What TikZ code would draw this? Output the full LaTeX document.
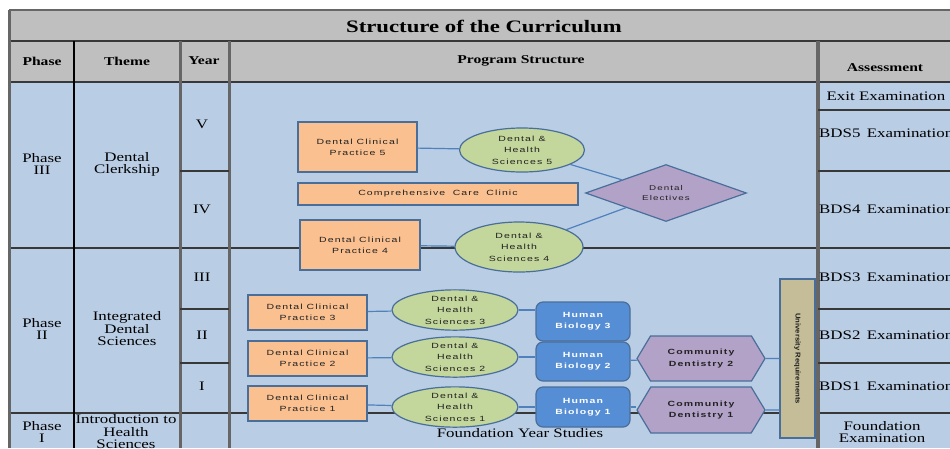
\documentclass[tikz,border=0pt]{standalone}
\usepackage{fontspec}
\setmainfont{Liberation Serif}[FakeStretch=1.3]
\newfontfamily\nf{Liberation Sans}[FakeStretch=1.4,LetterSpace=15]
\newfontfamily\nfu{Liberation Sans}[FakeStretch=1.1]
\usetikzlibrary{shapes.geometric,shapes.symbols}
\definecolor{hdr}{HTML}{BFBFBF}
\definecolor{bodyc}{HTML}{B9CDE5}
\definecolor{orng}{HTML}{FAC090}
\definecolor{grn}{HTML}{C3D69B}
\definecolor{blu}{HTML}{558ED5}
\definecolor{purp}{HTML}{B3A2C7}
\definecolor{tanc}{HTML}{C4BD97}
\definecolor{edgec}{HTML}{4A6E9A}
\definecolor{conn}{HTML}{4F81BD}
\definecolor{gridd}{HTML}{383838}
\definecolor{gridg}{HTML}{666666}
\definecolor{txt}{HTML}{222222}
\begin{document}
\begin{tikzpicture}[x=1pt,y=-1pt,
  tbl/.style={font=\fontsize{13}{12.5}\selectfont, align=center, inner sep=0, text=black},
  hd/.style={font=\fontsize{12}{12}\selectfont\bfseries, inner sep=0, text=black},
  rbox/.style={draw=edgec, line width=1.2, fill=orng, inner sep=0, align=center, text=txt,
     font=\nf\fontsize{7.5}{11}\selectfont},
  ell/.style={ellipse, draw=edgec, line width=1.2, fill=grn, inner sep=0, align=center, text=txt,
     font=\nf\fontsize{7.5}{11.5}\selectfont},
  hbox/.style={rounded corners=7, draw=edgec, line width=1.2, fill=blu, inner sep=0, align=center, text=white,
     font=\nf\fontsize{7.5}{11}\selectfont\bfseries},
  hexa/.style={signal, signal to=east and west, signal pointer angle=118, draw=edgec, line width=1.2, fill=purp,
     inner sep=0, align=center, text=txt, font=\nf\fontsize{7.5}{11.5}\selectfont\bfseries},
  dia/.style={diamond, aspect=2.8, draw=edgec, line width=1.2, fill=purp, inner sep=0, align=center, text=txt,
     font=\nf\fontsize{7}{10.5}\selectfont},
  cn/.style={conn, line width=1.2},
  gl/.style={gridd, line width=2},
  gv/.style={gridg, line width=3}
]
\useasboundingbox (0,0) rectangle (950,448);
\clip (0,0) rectangle (950,448);
\fill[white] (0,0) rectangle (950,448);
\fill[hdr] (9,10) rectangle (950,82);
\fill[bodyc] (9,82) rectangle (950,448);
% grid
\draw[gridg, line width=1.5] (9,10) -- (950,10);
\draw[gl] (9,41) -- (950,41);
\draw[gl] (9,82) -- (950,82);
\draw[gl] (9,248) -- (950,248);
\draw[gl] (9,413) -- (950,413);
\draw[gv] (9,10) -- (9,448);
\draw[black, line width=1.5] (74,41) -- (74,448);
\draw[gv] (180,41) -- (180,448);
\draw[gv] (229,41) -- (229,448);
\draw[gridg, line width=3.5] (818,41) -- (818,448);
\draw[gridd, line width=1.5] (180,171) -- (229,171) (180,309) -- (229,309) (180,363) -- (229,363);
\draw[gridd, line width=1.5] (818,110) -- (950,110) (818,171) -- (950,171) (818,309) -- (950,309) (818,363) -- (950,363);
% title and headers
\node[font=\fontsize{17.5}{17.5}\selectfont\bfseries, inner sep=0] (title) at (484,26) {Structure of the Curriculum};
\node[hd] (hphase) at (42,61) {Phase};
\node[hd] (htheme) at (127,61) {Theme};
\node[hd] (hyear) at (204,61) {Year};
\node[hd] (hprog) at (521,61) {Program Structure};
\node[hd] (hass) at (885,68) {Assessment};
% left columns
\node[tbl] (p3) at (42,164) {Phase\\III};
\node[tbl] (t3) at (127,164.5) {Dental\\Clerkship};
\node[tbl] (yv) at (202,124) {V};
\node[tbl] (yiv) at (202,209) {IV};
\node[tbl] (p2) at (42,329) {Phase\\II};
\node[tbl] (t2) at (127,329) {Integrated\\Dental\\Sciences};
\node[tbl] (yiii) at (202,277) {III};
\node[tbl] (yii) at (202,335) {II};
\node[tbl] (yi) at (202,386) {I};
\node[tbl] (p1) at (42,432) {Phase\\I};
\node[tbl] (t1) at (126,432) {Introduction to\\Health\\Sciences};
% assessment column
\node[tbl] (aexit) at (886,96) {Exit Examination};
\node[tbl, anchor=west] (a5) at (819,133) {BDS5\, Examination};
\node[tbl, anchor=west] (a4) at (819,209) {BDS4\, Examination};
\node[tbl, anchor=west] (a3) at (819,277) {BDS3\, Examination};
\node[tbl, anchor=west] (a2) at (819,335) {BDS2\, Examination};
\node[tbl, anchor=west] (a1) at (819,386) {BDS1\, Examination};
\node[tbl] (af) at (882,432) {Foundation\\Examination};
% Phase III program
\node[rbox, minimum width=119, minimum height=50] (dcp5) at (357.5,147) {Dental Clinical\\Practice 5};
\node[ell, minimum width=125, minimum height=44] (dhs5) at (522,150) {Dental \&\\Health\\Sciences 5};
\node[rbox, minimum width=280, minimum height=22] (ccc) at (438,194) {Comprehensive\quad Care\quad Clinic};
\node[dia, minimum width=161, minimum height=57] (del) at (666,193) {Dental\\Electives};
\node[rbox, minimum width=120, minimum height=50] (dcp4) at (360,245) {Dental Clinical\\Practice 4};
\node[ell, minimum width=128, minimum height=50] (dhs4) at (519,247) {Dental \&\\Health\\Sciences 4};
\draw[cn] (dcp5) -- (dhs5);
\draw[cn] (dhs5) -- (del);
\draw[cn] (dcp4) -- (dhs4);
\draw[cn] (dhs4) -- (del);
% Phase II program
\node[rbox, minimum width=119, minimum height=35] (dcp3) at (307.5,312.5) {Dental Clinical\\Practice 3};
\node[ell, minimum width=126, minimum height=38] (dhs3) at (455,310) {Dental \&\\Health\\Sciences 3};
\node[hbox, minimum width=94, minimum height=39] (hb3) at (583,321.5) {Human\\Biology 3};
\node[rbox, minimum width=119, minimum height=35] (dcp2) at (307.5,358.5) {Dental Clinical\\Practice 2};
\node[ell, minimum width=126, minimum height=40] (dhs2) at (455,357) {Dental \&\\Health\\Sciences 2};
\node[hbox, minimum width=94, minimum height=39] (hb2) at (583,361.5) {Human\\Biology 2};
\node[hexa, minimum width=128, minimum height=45] (cd2) at (701,358.5) {Community\\Dentistry 2};
\node[rbox, minimum width=119, minimum height=35] (dcp1) at (307.5,403.5) {Dental Clinical\\Practice 1};
\node[ell, minimum width=126, minimum height=40] (dhs1) at (455,407) {Dental \&\\Health\\Sciences 1};
\node[hbox, minimum width=94, minimum height=40] (hb1) at (583,407) {Human\\Biology 1};
\node[hexa, minimum width=128, minimum height=46] (cd1) at (701,410) {Community\\Dentistry 1};
\node[draw=edgec, line width=1.2, fill=tanc, rotate=-90, minimum width=159, minimum height=35, inner sep=0,
  text=txt, font=\nfu\fontsize{7}{7}\selectfont\bfseries] (ur) at (797.5,358.5) {University Requirements};
\draw[cn] (dcp3) -- (dhs3);
\draw[cn] (dhs3) -- (dhs3 -| hb3.west);
\draw[cn] (dcp2) -- (dhs2);
\draw[cn] (dhs2) -- (dhs2 -| hb2.west);
\draw[cn] (hb2) -- (cd2);
\draw[cn] (cd2) -- (cd2 -| ur.south);
\draw[cn] (dcp1) -- (dhs1);
\draw[cn] (dhs1) -- (hb1);
\draw[cn] (hb1) -- (hb1 -| cd1.west);
\draw[cn] (cd1) -- (cd1 -| ur.south);
\node[font=\fontsize{13}{13}\selectfont, inner sep=0] (fys) at (520,433) {Foundation Year Studies};
\end{tikzpicture}
\end{document}
